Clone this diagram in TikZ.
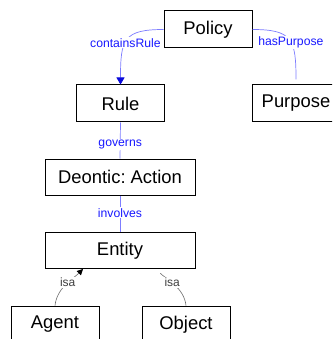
\documentclass[tikz,border=0pt]{standalone}
\usepackage{fontspec}
\setmainfont{Liberation Sans}
\usetikzlibrary{arrows.meta}
\definecolor{lnblue}{RGB}{125,125,255}
\definecolor{lbblue}{RGB}{25,25,255}
\definecolor{tipblue}{RGB}{10,10,220}
\definecolor{isagray}{RGB}{110,110,110}
\frenchspacing
\begin{document}
\begin{tikzpicture}[x=1pt,y=-1pt,
  box/.style={draw=black,line width=1pt,minimum height=37pt,inner sep=0pt,
    font=\fontsize{18.4}{20}\selectfont},
  smallbox/.style={box,minimum width=88pt},
  widebox/.style={box,minimum width=150pt,minimum height=36pt},
  rel/.style={draw=lnblue,line width=0.7pt},
  rlab/.style={fill=white,text=lbblue,inner sep=1pt,font=\fontsize{12.2}{14}\selectfont},
  isarel/.style={draw=isagray,line width=0.6pt},
  isalab/.style={fill=white,text=black!75,inner sep=1pt,font=\fontsize{12}{14}\selectfont}]
\useasboundingbox (0,0) rectangle (332,339);
\clip (0,0) rectangle (332,339);
\fill[white] (0,0) rectangle (332,339);

\node[smallbox] (policy) at (208,29.5) {Policy};
\node[smallbox] (rule) at (120.5,103.5) {Rule};
\node[smallbox] (purpose) at (296,103.5) {Purpose};
\node[widebox] (deontic) at (120,177) {Deontic: Action};
\node[widebox] (entity) at (120,250.5) {Entity};
\node[smallbox] (agent) at (55,324.5) {Agent};
\node[smallbox] (object) at (186,324.5) {Object};

\coordinate (entA) at ([xshift=-37pt]entity.south);
\coordinate (entO) at ([xshift=36pt]entity.south);

\draw[rel,-{Triangle[length=7pt,width=8pt,color=tipblue]}]
  (policy.west) .. controls +(-40,0) and +(0,-45) .. node[rlab,pos=0.55]{containsRule} (rule.north);
\draw[rel,shorten >=5pt]
  (policy.east) .. controls +(40,0) and +(0,-45) .. node[rlab,pos=0.55]{hasPurpose} (purpose.north);
\draw[rel] (rule.south) -- node[rlab,pos=0.62]{governs} (deontic.north);
\draw[rel] (deontic.south) -- node[rlab,pos=0.47]{involves} (entity.north);

\draw[isarel,-{Triangle[length=6pt,width=6pt,color=black]}]
  (agent.north) .. controls +(2,-18) and +(-10,10) .. node[isalab,pos=0.55]{isa} (entA);
\draw[isarel,shorten <=6pt]
  (entO) .. controls +(10,10) and +(-2,-18) .. node[isalab,pos=0.45]{isa} (object.north);
\end{tikzpicture}
\end{document}
